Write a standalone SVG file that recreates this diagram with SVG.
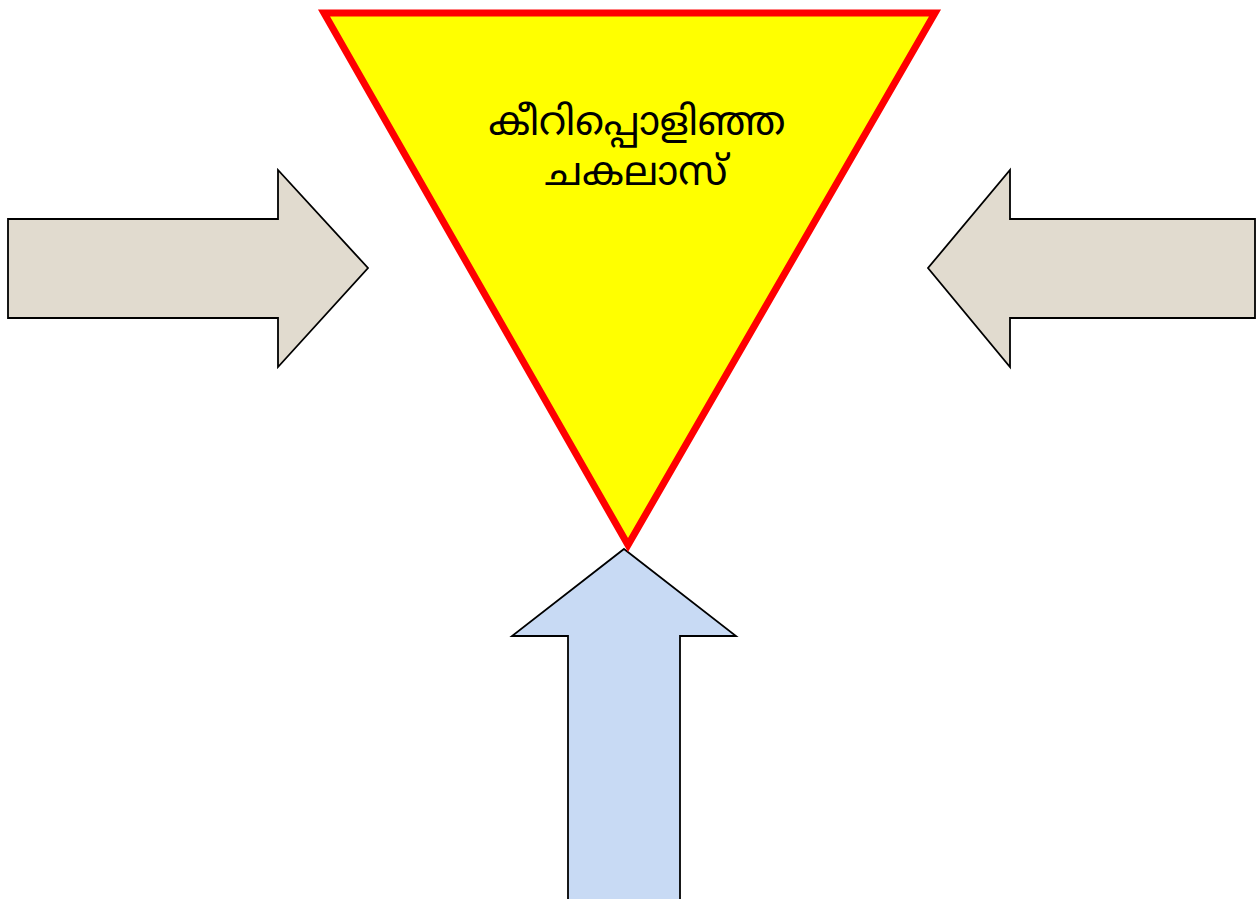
<svg xmlns="http://www.w3.org/2000/svg" width="1259" height="899" viewBox="0 0 1259 899">
<style>
.arrow{stroke:#000;stroke-width:1.8;stroke-linejoin:miter}
.stone{fill:#e1dbcf}
.marble{fill:#c8daf4}
.lbl{font-family:"Noto Sans Malayalam","Noto Sans","DejaVu Sans",sans-serif;font-size:40px;fill:#000;text-anchor:middle}
</style>
<rect width="1259" height="899" fill="#fff"/>
<g id="connectors">
<polygon id="arrow-left" class="arrow stone" points="8,219 278,219 278,170 368,268 278,367 278,318 8,318"/>
<polygon id="arrow-right" class="arrow stone" points="1255,219 1010,219 1010,170 928,268 1010,367 1010,318 1255,318"/>
<polygon id="arrow-up" class="arrow marble" points="624,549 736,636 680,636 680,905 568,905 568,636 512,636"/>
</g>
<g id="triangle">
<polygon points="324,13 935,13 628,545" fill="#ffff00" stroke="#ff0000" stroke-width="7" stroke-linejoin="miter"/>
<text class="lbl" x="637" y="135">കീറിപ്പൊളിഞ്ഞ</text>
<text class="lbl" x="636" y="185">ചകലാസ്</text>
</g>
</svg>
